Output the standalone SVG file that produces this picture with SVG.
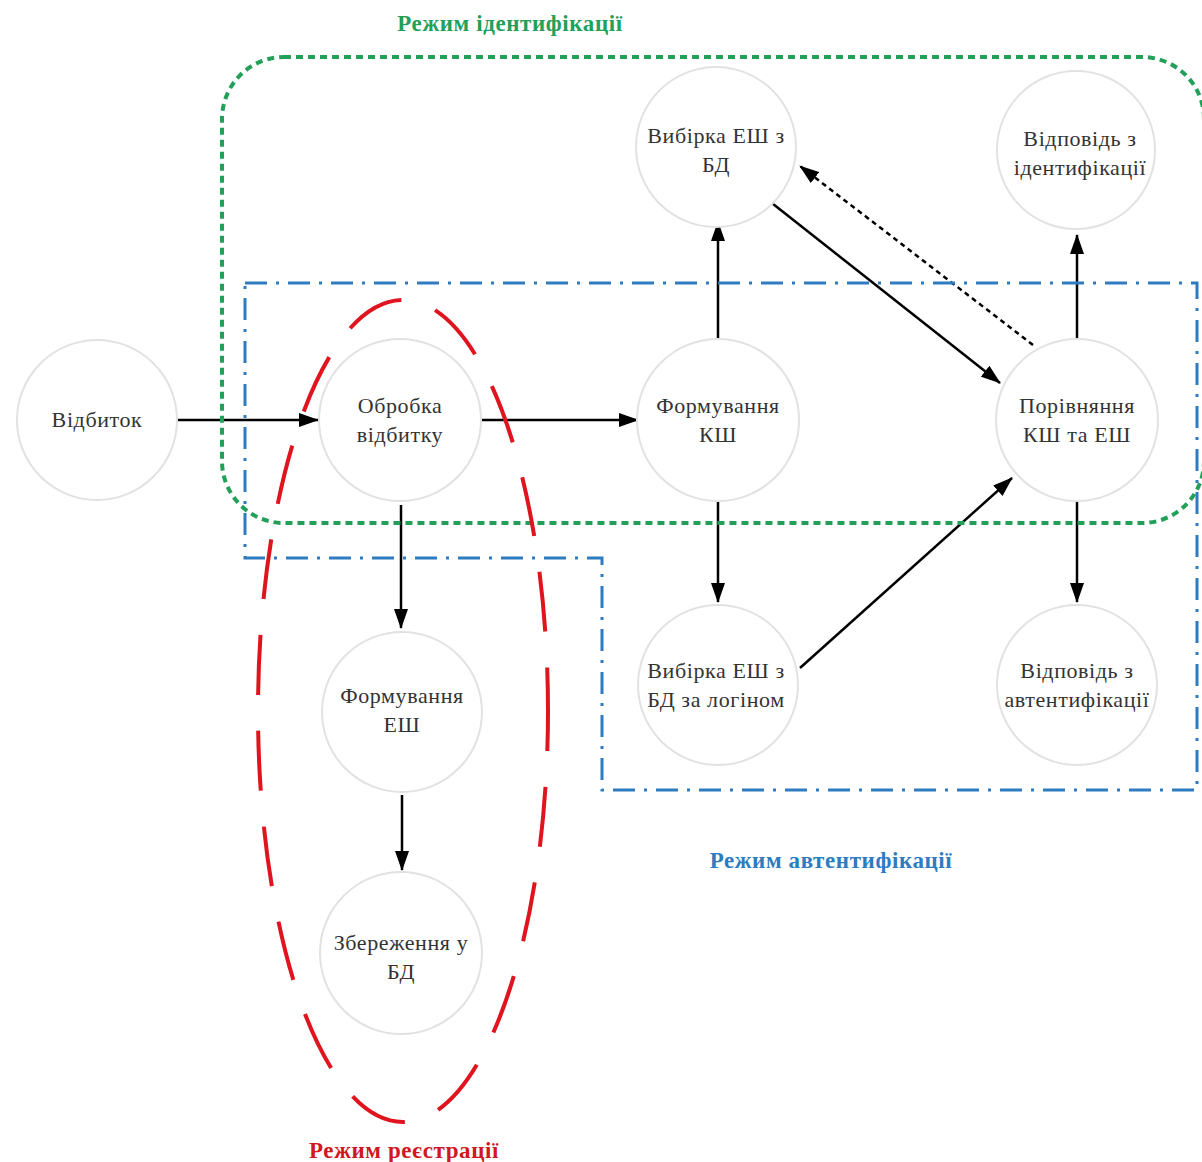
<svg xmlns="http://www.w3.org/2000/svg" width="1202" height="1162" viewBox="0 0 1202 1162">
<defs>
<marker id="ah" viewBox="0 0 20 14" refX="19" refY="7" markerWidth="20" markerHeight="15" markerUnits="userSpaceOnUse" orient="auto">
<path d="M0,0 L20,7 L0,14 Z" fill="#000"/>
</marker>
<style>
.node circle{fill:#fff;stroke:#e2e2e2;stroke-width:2}
.node text{font-family:"Liberation Serif","DejaVu Serif",serif;font-size:22px;letter-spacing:0.6px;fill:#333;text-anchor:middle}
.edge{stroke:#000;stroke-width:2.5;fill:none;marker-end:url(#ah)}
.lbl{font-family:"Liberation Serif","DejaVu Serif",serif;font-size:23px;letter-spacing:0.6px;font-weight:bold;text-anchor:middle}
</style>
</defs>
<rect width="1202" height="1162" fill="#fff"/>
<g id="connectors">
<line class="edge" x1="177" y1="420" x2="318" y2="420"/>
<line class="edge" x1="482" y1="420" x2="638" y2="420"/>
<line class="edge" x1="718" y1="338" x2="718" y2="222"/>
<line class="edge" x1="768" y1="200" x2="1000" y2="383"/>
<line class="edge" x1="1033" y1="345" x2="800" y2="166" stroke-dasharray="5,4" stroke-width="2"/>
<line class="edge" x1="1077" y1="338" x2="1077" y2="235"/>
<line class="edge" x1="1077" y1="502" x2="1077" y2="602"/>
<line class="edge" x1="718" y1="502" x2="718" y2="602"/>
<line class="edge" x1="800" y1="668" x2="1012" y2="478"/>
<line class="edge" x1="401" y1="505" x2="401" y2="628"/>
<line class="edge" x1="402" y1="795" x2="402" y2="870"/>
</g>
<g id="n1" class="node"><circle cx="97" cy="420" r="80"/><text x="97" y="427">Відбиток</text></g>
<g id="n2" class="node"><circle cx="400" cy="420" r="81"/><text x="400" y="413">Обробка</text><text x="400" y="442">відбитку</text></g>
<g id="n3" class="node"><circle cx="718" cy="420" r="81"/><text x="718" y="413">Формування</text><text x="718" y="442">КШ</text></g>
<g id="n4" class="node"><circle cx="1077" cy="420" r="81"/><text x="1077" y="413">Порівняння</text><text x="1077" y="442">КШ та ЕШ</text></g>
<g id="n5" class="node"><circle cx="716" cy="147" r="80"/><text x="716" y="143">Вибірка ЕШ з</text><text x="716" y="172">БД</text></g>
<g id="n6" class="node"><circle cx="1076" cy="150" r="79"/><text x="1080" y="146">Відповідь з</text><text x="1080" y="175">ідентифікації</text></g>
<g id="n7" class="node"><circle cx="718" cy="685" r="80"/><text x="716" y="678">Вибірка ЕШ з</text><text x="716" y="707">БД за логіном</text></g>
<g id="n8" class="node"><circle cx="1077" cy="685" r="80"/><text x="1077" y="678">Відповідь з</text><text x="1077" y="707">автентифікації</text></g>
<g id="n9" class="node"><circle cx="402" cy="712" r="80"/><text x="402" y="703">Формування</text><text x="402" y="732">ЕШ</text></g>
<g id="n10" class="node"><circle cx="401" cy="953" r="81"/><text x="401" y="950">Збереження у</text><text x="401" y="979">БД</text></g>
<g id="regions" fill="none">
<rect x="222" y="57" width="982" height="466" rx="62" ry="62" stroke="#22a05a" stroke-width="4" stroke-dasharray="7,5"/>
<path d="M245,283 H1197 V790 H602 V558 H245 Z" stroke="#2e7bbf" stroke-width="3" stroke-dasharray="22,9,3,9"/>
<ellipse cx="403" cy="711" rx="145" ry="411" stroke="#e0141e" stroke-width="4" stroke-dasharray="60,36" stroke-dashoffset="20"/>
</g>
<text class="lbl" x="510" y="31" fill="#22a05a">Режим ідентифікації</text>
<text class="lbl" x="831" y="868" fill="#2e7bbf">Режим автентифікації</text>
<text class="lbl" x="404" y="1158" fill="#d01820">Режим реєстрації</text>
</svg>
